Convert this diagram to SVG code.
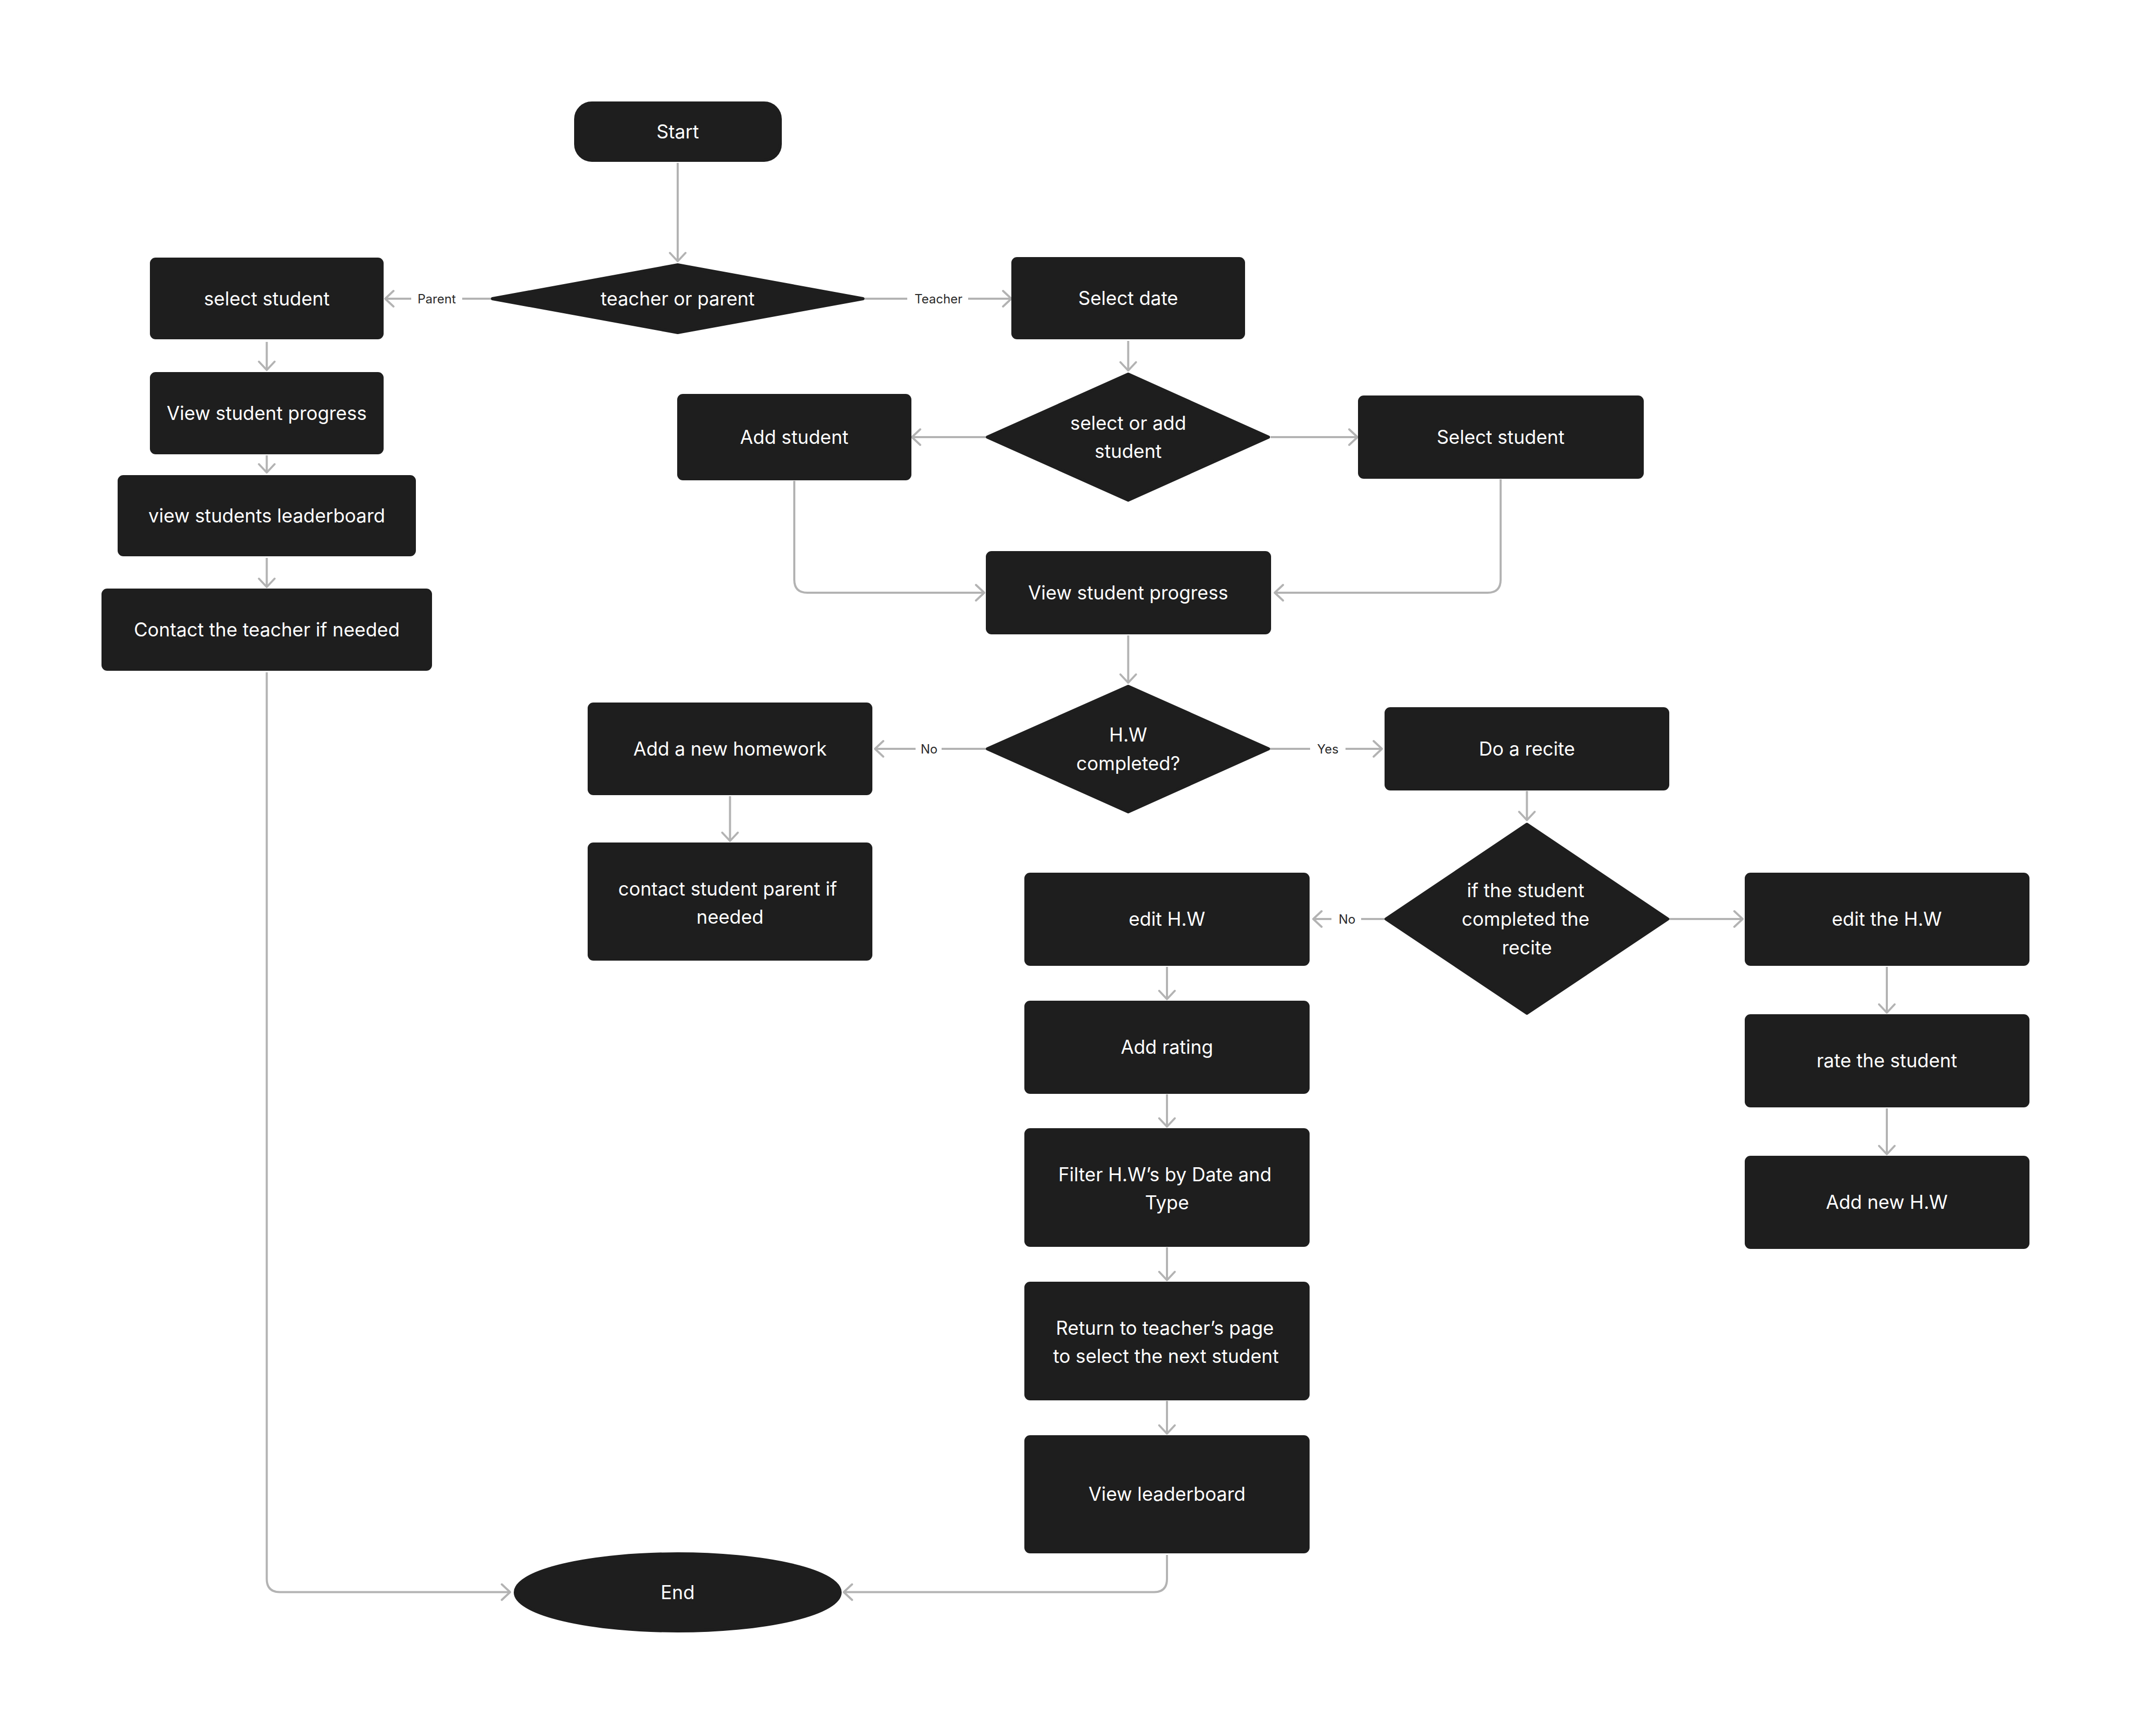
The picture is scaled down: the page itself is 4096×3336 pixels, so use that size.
<svg xmlns="http://www.w3.org/2000/svg" width="4096" height="3336" viewBox="0 0 4096 3336">
<style>
.n{fill:#1E1E1E;stroke:#1E1E1E;stroke-width:6;stroke-linejoin:round}
.t{font-family:Inter,"Liberation Sans",sans-serif;font-size:36.2px;font-weight:400;fill:#FFFFFF;text-anchor:middle;dominant-baseline:central}
.l{font-family:Inter,"Liberation Sans",sans-serif;font-size:24px;font-weight:400;fill:#2A2A2A;text-anchor:middle;dominant-baseline:central}
.e{fill:none;stroke:#B3B3B3;stroke-width:4}
.a{marker-end:url(#arr)}
</style>
<defs>
<marker id="arr" markerUnits="userSpaceOnUse" markerWidth="40" markerHeight="40" viewBox="-20 -20 40 40" refX="0" refY="0" orient="auto" overflow="visible">
<path d="M-16,-15 L0,0 L-16,15" fill="none" stroke="#B3B3B3" stroke-width="4" stroke-linecap="round" stroke-linejoin="round"/>
</marker>
</defs>
<rect width="4096" height="3336" fill="#FFFFFF"/>
<g id="connectors">
<path class="e a" d="M1302,313 V502"/>
<path class="e" d="M943,574 H888"/>
<path class="e a" d="M790,574 H740"/>
<text class="l" x="839" y="574">Parent</text>
<path class="e" d="M1661,574 H1743"/>
<path class="e a" d="M1860,574 H1943"/>
<text class="l" x="1803" y="574">Teacher</text>
<path class="e a" d="M2167.5,655 V712"/>
<path class="e a" d="M1894,840 H1752"/>
<path class="e a" d="M2441,840 H2608"/>
<path class="e a" d="M1526,924 V1114 Q1526,1139 1551,1139 H1891"/>
<path class="e a" d="M2883,921 V1114 Q2883,1139 2858,1139 H2449"/>
<path class="e a" d="M2167.5,1221 V1312"/>
<path class="e" d="M1894,1439 H1809"/>
<path class="e a" d="M1759,1439 H1681"/>
<text class="l" x="1785" y="1439">No</text>
<path class="e" d="M2440,1439 H2517"/>
<path class="e a" d="M2585,1439 H2655"/>
<text class="l" x="2551" y="1439">Yes</text>
<path class="e a" d="M2933.5,1520 V1576"/>
<path class="e a" d="M1402.5,1530 V1616"/>
<path class="e" d="M2660,1766 H2615"/>
<path class="e a" d="M2558,1766 H2523"/>
<text class="l" x="2588" y="1766">No</text>
<path class="e a" d="M3207,1766 H3348"/>
<path class="e a" d="M2242,1858 V1920"/>
<path class="e a" d="M2242,2103 V2165"/>
<path class="e a" d="M2242,2397 V2460"/>
<path class="e a" d="M2242,2692 V2755"/>
<path class="e a" d="M2242,2988 V3034 Q2242,3059.5 2217,3059.5 H1621"/>
<path class="e a" d="M3625,1858 V1946"/>
<path class="e a" d="M3625,2130 V2218"/>
<path class="e a" d="M512.5,657 V711"/>
<path class="e a" d="M512.5,875 V908"/>
<path class="e a" d="M512.5,1072 V1128"/>
<path class="e a" d="M512.5,1292 V3034 Q512.5,3059.5 538,3059.5 H980"/>
</g>
<g id="start"><rect class="n" x="1106" y="198" width="393" height="110" rx="31"/><text class="t" x="1302" y="253">Start</text></g>
<g id="teacher-or-parent"><polygon class="n" points="946,574 1302,509 1658,574 1302,639"/><text class="t" x="1302" y="574">teacher or parent</text></g>
<g id="select-student-parent"><rect class="n" x="291" y="498" width="443" height="151" rx="8"/><text class="t" x="512.5" y="574">select student</text></g>
<g id="view-progress-parent"><rect class="n" x="291" y="718" width="443" height="152" rx="8"/><text class="t" x="512.5" y="794">View student progress</text></g>
<g id="view-leaderboard-parent"><rect class="n" x="229" y="916" width="567" height="150" rx="8"/><text class="t" x="512.5" y="991">view students leaderboard</text></g>
<g id="contact-teacher"><rect class="n" x="198" y="1134" width="629" height="152" rx="8"/><text class="t" x="512.5" y="1210">Contact the teacher if needed</text></g>
<g id="select-date"><rect class="n" x="1946" y="497" width="443" height="152" rx="8"/><text class="t" x="2167.5" y="573">Select date</text></g>
<g id="select-or-add"><polygon class="n" points="1897,840 2167.5,719 2437,840 2167.5,961"/><text class="t" x="2167.5" y="813">select or add</text><text class="t" x="2167.5" y="867">student</text></g>
<g id="add-student"><rect class="n" x="1304" y="760" width="444" height="160" rx="8"/><text class="t" x="1526" y="840">Add student</text></g>
<g id="select-student-teacher"><rect class="n" x="2612" y="763" width="543" height="154" rx="8"/><text class="t" x="2883" y="840">Select student</text></g>
<g id="view-progress-teacher"><rect class="n" x="1897" y="1062" width="542" height="154" rx="8"/><text class="t" x="2167.5" y="1139">View student progress</text></g>
<g id="hw-completed"><polygon class="n" points="1897,1439 2167.5,1319 2437,1439 2167.5,1560"/><text class="t" x="2167.5" y="1412">H.W</text><text class="t" x="2167.5" y="1467">completed?</text></g>
<g id="add-new-homework"><rect class="n" x="1132" y="1353" width="541" height="172" rx="8"/><text class="t" x="1402.5" y="1439">Add a new homework</text></g>
<g id="contact-parent"><rect class="n" x="1132" y="1622" width="541" height="221" rx="8"/><text class="t" x="1398" y="1708">contact student parent if</text><text class="t" x="1402.5" y="1762">needed</text></g>
<g id="do-recite"><rect class="n" x="2663" y="1362" width="541" height="154" rx="8"/><text class="t" x="2933.5" y="1439">Do a recite</text></g>
<g id="recite-completed"><polygon class="n" points="2663,1766 2933.5,1584 3204,1766 2933.5,1947"/><text class="t" x="2931" y="1711">if the student</text><text class="t" x="2931" y="1766">completed the</text><text class="t" x="2933.5" y="1821">recite</text></g>
<g id="edit-hw"><rect class="n" x="1971" y="1680" width="542" height="173" rx="8"/><text class="t" x="2242" y="1766">edit H.W</text></g>
<g id="add-rating"><rect class="n" x="1971" y="1926" width="542" height="173" rx="8"/><text class="t" x="2242" y="2012">Add rating</text></g>
<g id="filter-hw"><rect class="n" x="1971" y="2171" width="542" height="222" rx="8"/><text class="t" x="2238" y="2257">Filter H.W’s by Date and</text><text class="t" x="2242" y="2311">Type</text></g>
<g id="return-page"><rect class="n" x="1971" y="2466" width="542" height="222" rx="8"/><text class="t" x="2238" y="2552">Return to teacher’s page</text><text class="t" x="2240" y="2606">to select the next student</text></g>
<g id="view-leaderboard-teacher"><rect class="n" x="1971" y="2761" width="542" height="221" rx="8"/><text class="t" x="2242" y="2871">View leaderboard</text></g>
<g id="edit-the-hw"><rect class="n" x="3355" y="1680" width="541" height="173" rx="8"/><text class="t" x="3625" y="1766">edit the H.W</text></g>
<g id="rate-student"><rect class="n" x="3355" y="1952" width="541" height="173" rx="8"/><text class="t" x="3625" y="2038">rate the student</text></g>
<g id="add-new-hw"><rect class="n" x="3355" y="2224" width="541" height="173" rx="8"/><text class="t" x="3625" y="2310">Add new H.W</text></g>
<g id="end"><ellipse class="n" cx="1302" cy="3060" rx="312" ry="74"/><text class="t" x="1302" y="3060">End</text></g>
</svg>
